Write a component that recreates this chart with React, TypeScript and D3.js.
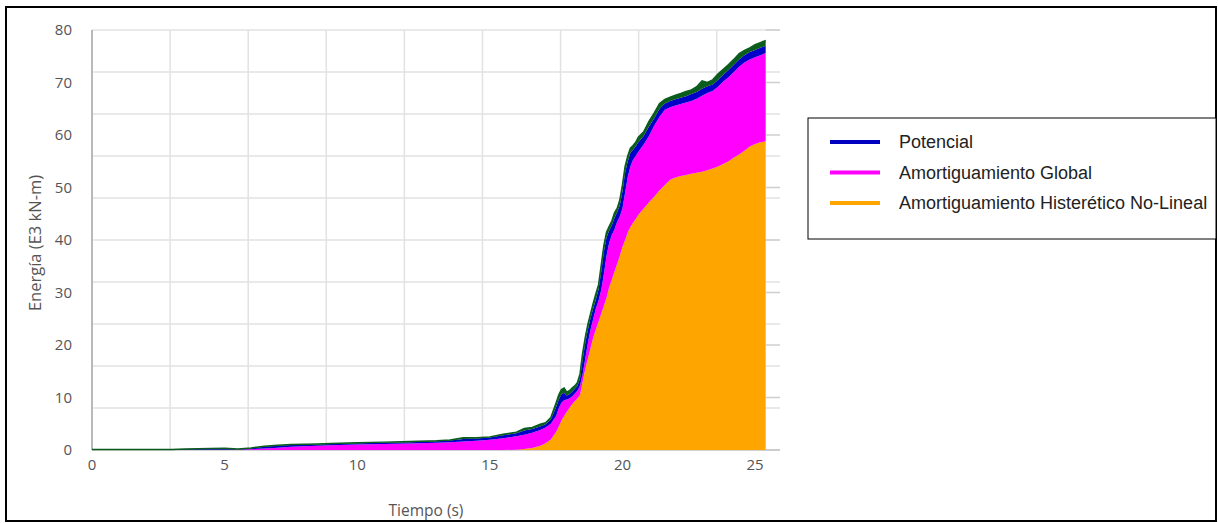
import React from "react";
import * as d3 from "d3";

// Time (s)
const TIME = [0,1,2,3,3.5,4,4.5,5,5.5,6,6.5,7,7.5,8,8.5,9,10,11,12,13,13.5,14,14.5,15,15.5,
  16,16.3,16.6,16.9,17.1,17.3,
  17.5,17.6,17.7,17.8,17.9,18.0,18.1,18.2,18.3,
  18.4,18.5,18.6,18.7,18.8,18.9,19.0,19.1,19.2,19.3,19.4,19.5,19.6,19.7,19.8,19.9,20.0,20.1,20.2,20.3,20.4,20.5,20.6,
  20.8,21.0,21.2,21.4,21.6,21.8,22.0,22.2,22.4,22.6,22.8,23.0,23.2,23.4,23.6,23.8,24.0,24.2,24.4,24.6,24.8,25.0,25.2,25.4];

// Cumulative energy levels (E3 kN-m)
const HISTERETICO = [0,0,0,0,0,0,0,0,0,0,0,0,0,0,0,0,0,0,0,0,0,0,0,0,0,
  0.05,0.2,0.4,0.8,1.3,2.0,
  3.5,4.5,5.6,6.5,7.3,8.0,8.7,9.3,9.8,
  10.5,13,15.5,17.5,19.5,21.5,23,24.5,26,27.5,29,31,32.5,34,35.5,37,38.7,40,41.5,42.5,43.3,44,44.8,
  46,47.2,48.3,49.5,50.5,51.5,51.9,52.2,52.4,52.6,52.8,53.0,53.3,53.6,54.0,54.5,55.0,55.7,56.3,57.0,57.8,58.3,58.6,58.8];

const AMORTIGUAMIENTO = [0,0,0,0,0,0.03,0.05,0.06,0.08,0.15,0.3,0.45,0.6,0.7,0.8,0.9,1.05,1.15,1.25,1.4,1.5,1.6,1.75,1.95,2.25,
  2.6,2.9,3.3,3.8,4.3,5.0,
  6.5,8,9,9.5,9.6,9.8,10.2,10.7,11.3,
  12.3,14.5,17.5,20.5,23,25,27,28.5,30.5,33.5,37,39.5,41,42,43.5,44.5,46,49,52,54,55.3,56,56.8,
  58.2,59.8,61.8,63.5,64.8,65.3,65.6,65.9,66.2,66.5,66.9,67.5,68.0,68.4,69.2,70.2,71.0,72.0,73.0,73.8,74.4,74.8,75.2,75.6];

const POTENCIAL = [0.05,0.05,0.05,0.08,0.15,0.2,0.25,0.3,0.15,0.35,0.6,0.8,0.95,1.0,1.05,1.15,1.3,1.4,1.5,1.65,1.8,2.1,2.2,2.4,2.8,
  3.2,3.7,4.0,4.5,4.9,5.8,
  8.2,9.6,10.6,10.9,10.4,10.6,11.1,11.6,12.2,
  13.6,17.3,20.5,23,25.2,27,28.7,30.6,34,37.8,40.5,41.8,42.8,44.2,45.3,46.6,49.3,52.8,55,56.6,57.2,57.8,58.6,
  59.8,61.6,63.2,65,66,66.5,66.8,67.1,67.4,67.8,68.2,68.8,69.3,69.6,70.5,71.5,72.4,73.4,74.4,75.2,75.8,76.2,76.6,77.0];

const TOTAL = [0.08,0.08,0.08,0.1,0.2,0.25,0.3,0.35,0.2,0.4,0.7,0.9,1.05,1.1,1.15,1.25,1.4,1.5,1.6,1.75,1.9,2.35,2.35,2.5,3.0,
  3.4,4.1,4.3,4.9,5.2,6.2,
  9.0,10.5,11.5,11.8,11.0,11.3,11.8,12.2,12.8,
  14.5,18.5,21.5,24,26,28,29.8,31.5,35.2,39,41.5,42.6,43.6,45.2,46,47.6,50.5,54,56,57.5,58,58.6,59.6,
  60.6,62.6,64.2,66,66.8,67.2,67.6,67.9,68.3,68.6,69.2,70.3,70.0,70.5,71.6,72.5,73.4,74.4,75.5,76.1,76.6,77.2,77.6,78.0];

const X_TICKS = [0, 5, 10, 15, 20, 25];
const Y_TICKS = [0, 10, 20, 30, 40, 50, 60, 70, 80];
const GRID_X = [0, 1, 2, 3, 4, 5, 6, 7, 8];
const GRID_Y = [0, 1, 2, 3, 4, 5, 6, 7, 8, 9, 10];

const LEGEND = [
  { label: "Potencial", color: "#0000c0" },
  { label: "Amortiguamiento Global", color: "#ff00ff" },
  { label: "Amortiguamiento Histerético No-Lineal", color: "#ffa500" },
];

const W = 1218, H = 523;
const PL = 92, PR = 780, PT = 30, PB = 450;

export default function App() {
  const x = d3.scaleLinear().domain([0, 25.94]).range([PL, PR]);
  const y = d3.scaleLinear().domain([0, 80]).range([PB, PT]);
  const gx = d3.scaleLinear().domain([0, 8.81]).range([PL, PR]);
  const gy = d3.scaleLinear().domain([0, 10]).range([PB, PT]);

  const idx = TIME.map((_, i) => i);
  const band = (lo: (i: number) => number, hi: (i: number) => number) =>
    d3.area<number>().x((i) => x(TIME[i])).y0((i) => y(lo(i))).y1((i) => y(hi(i)))(idx) || "";
  const topLine = d3.line<number>().x((i) => x(TIME[i])).y((i) => y(TOTAL[i]))(idx) || "";

  const font = "'Open Sans', sans-serif";
  return (
    <svg width={W} height={H} style={{ position: "absolute", left: 0, top: 0, background: "#fff" }}>
      <rect x={6} y={7} width={1210} height={514} fill="#fff" stroke="#000" strokeWidth={2} />
      {/* grid */}
      {GRID_Y.map((g) => (
        <line key={"gy" + g} x1={PL} x2={PR} y1={gy(g)} y2={gy(g)} stroke="#e2e2e2" strokeWidth={1.5} />
      ))}
      {GRID_X.map((g) => (
        <line key={"gx" + g} x1={gx(g)} x2={gx(g)} y1={PT} y2={PB} stroke="#e2e2e2" strokeWidth={1.5} />
      ))}
      {Y_TICKS.map((t) => (
        <line key={"rt" + t} x1={x(25.4)} x2={PR} y1={y(t)} y2={y(t)} stroke="#cfcfcf" strokeWidth={1.5} />
      ))}
      <line x1={PL} x2={PL} y1={PT} y2={PB} stroke="#a8a8a8" strokeWidth={1.5} />
      <line x1={PL} x2={PR} y1={PB} y2={PB} stroke="#c8c8c8" strokeWidth={1.5} />
      {/* areas */}
      <path d={band(() => 0, (i) => HISTERETICO[i])} fill="#ffa500" />
      <path d={band((i) => HISTERETICO[i], (i) => AMORTIGUAMIENTO[i])} fill="#ff00ff" />
      <path d={band((i) => AMORTIGUAMIENTO[i], (i) => POTENCIAL[i])} fill="#0000c8" />
      <path d={band((i) => POTENCIAL[i], (i) => TOTAL[i])} fill="#0b5d1e" />
      <path d={topLine} fill="none" stroke="#0b5d1e" strokeWidth={1.5} />
      {/* y ticks */}
      {Y_TICKS.map((t) => (
        <text key={"yl" + t} x={72} y={y(t)} dy="0.35em" textAnchor="end" fontFamily={font} fontSize={15} fill="#555">
          {t}
        </text>
      ))}
      {X_TICKS.map((t) => (
        <text key={"xl" + t} x={x(t)} y={465} dy="0.35em" textAnchor="middle" fontFamily={font} fontSize={15} fill="#555">
          {t}
        </text>
      ))}
      <text x={426} y={511} dy="0.35em" textAnchor="middle" fontFamily={font} fontSize={15.5} fill="#555">
        Tiempo (s)
      </text>
      <text transform="translate(35,243) rotate(-90)" dy="0.35em" textAnchor="middle" fontFamily={font} fontSize={16.5} fill="#555">
        Energía (E3 kN-m)
      </text>
      {/* legend */}
      <rect x={808} y={118} width={408} height={121} fill="#fff" stroke="#000" strokeWidth={1} />
      {LEGEND.map((l, i) => (
        <g key={l.label} transform={`translate(0,${142 + i * 30.5})`}>
          <line x1={830} x2={880} y1={0} y2={0} stroke={l.color} strokeWidth={4} />
          <text x={899} y={0} dy="0.35em" fontFamily="'Liberation Sans', Arial, sans-serif" fontSize={18} fill="#222">
            {l.label}
          </text>
        </g>
      ))}
    </svg>
  );
}
